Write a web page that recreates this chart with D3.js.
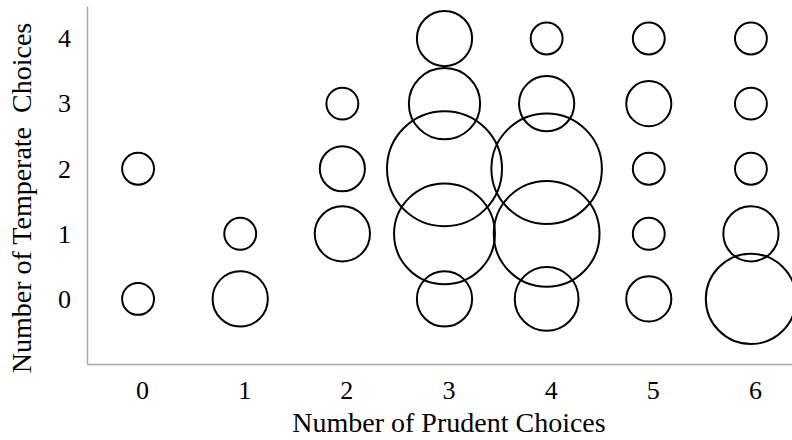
<!DOCTYPE html>
<meta charset="utf-8">
<script src="https://d3js.org/d3.v7.min.js"></script>
<style>
  body { margin: 0; background: #fff; }
  svg text { font-family: "Liberation Serif", "Times New Roman", serif; fill: #000; }
</style>
<body>
<div id="chart"></div>
<script>
// bubble data: x = prudent choices, y = temperate choices, n = number of people
var prudent   = [0, 0, 1, 1, 2, 2, 2, 3, 3, 3, 3, 3, 4, 4, 4, 4, 4, 5, 5, 5, 5, 5, 6, 6, 6, 6, 6];
var temperate = [0, 2, 0, 1, 1, 2, 3, 0, 1, 2, 3, 4, 0, 1, 2, 3, 4, 0, 1, 2, 3, 4, 0, 1, 2, 3, 4];
var counts    = [1, 1, 3, 1, 3, 2, 1, 3, 10, 13, 5, 3, 4, 11, 12, 3, 1, 2, 1, 1, 2, 1, 8, 3, 1, 1, 1];
var xTicks = [0, 1, 2, 3, 4, 5, 6];
var yTicks = [0, 1, 2, 3, 4];

var width = 792, height = 440;

var svg = d3.select("#chart").append("svg")
    .attr("width", width)
    .attr("height", height);

var x = d3.scaleLinear().domain([-0.5, 6.5]).range([87, 802]);
var y = d3.scaleLinear().domain([-1, 4.5]).range([364, 6]);
var r = d3.scaleSqrt().domain([0, 13]).range([0, 57.5]);

var data = prudent.map(function(d, i) {
  return {x: d, y: temperate[i], n: counts[i]};
});

// axes
var xAxis = svg.append("g")
    .attr("transform", "translate(0," + y(-1) + ")")
    .call(d3.axisBottom(x).tickValues(xTicks).tickSize(0).tickPadding(17).tickFormat(d3.format("d")));
var yAxis = svg.append("g")
    .attr("transform", "translate(" + x(-0.5) + ",0)")
    .call(d3.axisLeft(y).tickValues(yTicks).tickSize(0).tickPadding(16).tickFormat(d3.format("d")));

[xAxis, yAxis].forEach(function(g) {
  g.select(".domain").attr("stroke", "#a6a6a6").attr("stroke-width", 1.5);
  g.selectAll("text").style("font-size", "26px").attr("fill", "#000");
});
xAxis.selectAll("text").attr("dy", "0.71em");
xAxis.selectAll(".tick text").attr("x", 4);

// bubbles
svg.append("g")
  .selectAll("circle")
  .data(data)
  .enter()
  .append("circle")
    .attr("cx", function(d) { return x(d.x); })
    .attr("cy", function(d) { return y(d.y); })
    .attr("r", function(d) { return r(d.n); })
    .attr("fill", "none")
    .attr("stroke", "#000")
    .attr("stroke-width", 2);

// titles
svg.append("text")
    .attr("x", 449)
    .attr("y", 432)
    .attr("text-anchor", "middle")
    .style("font-size", "28px")
    .text("Number of Prudent Choices");

svg.append("text")
    .attr("transform", "translate(31,198)rotate(-90)")
    .attr("text-anchor", "middle")
    .style("font-size", "28px")
    .style("white-space", "pre")
    .text("Number of Temperate  Choices");
</script>
</body>
